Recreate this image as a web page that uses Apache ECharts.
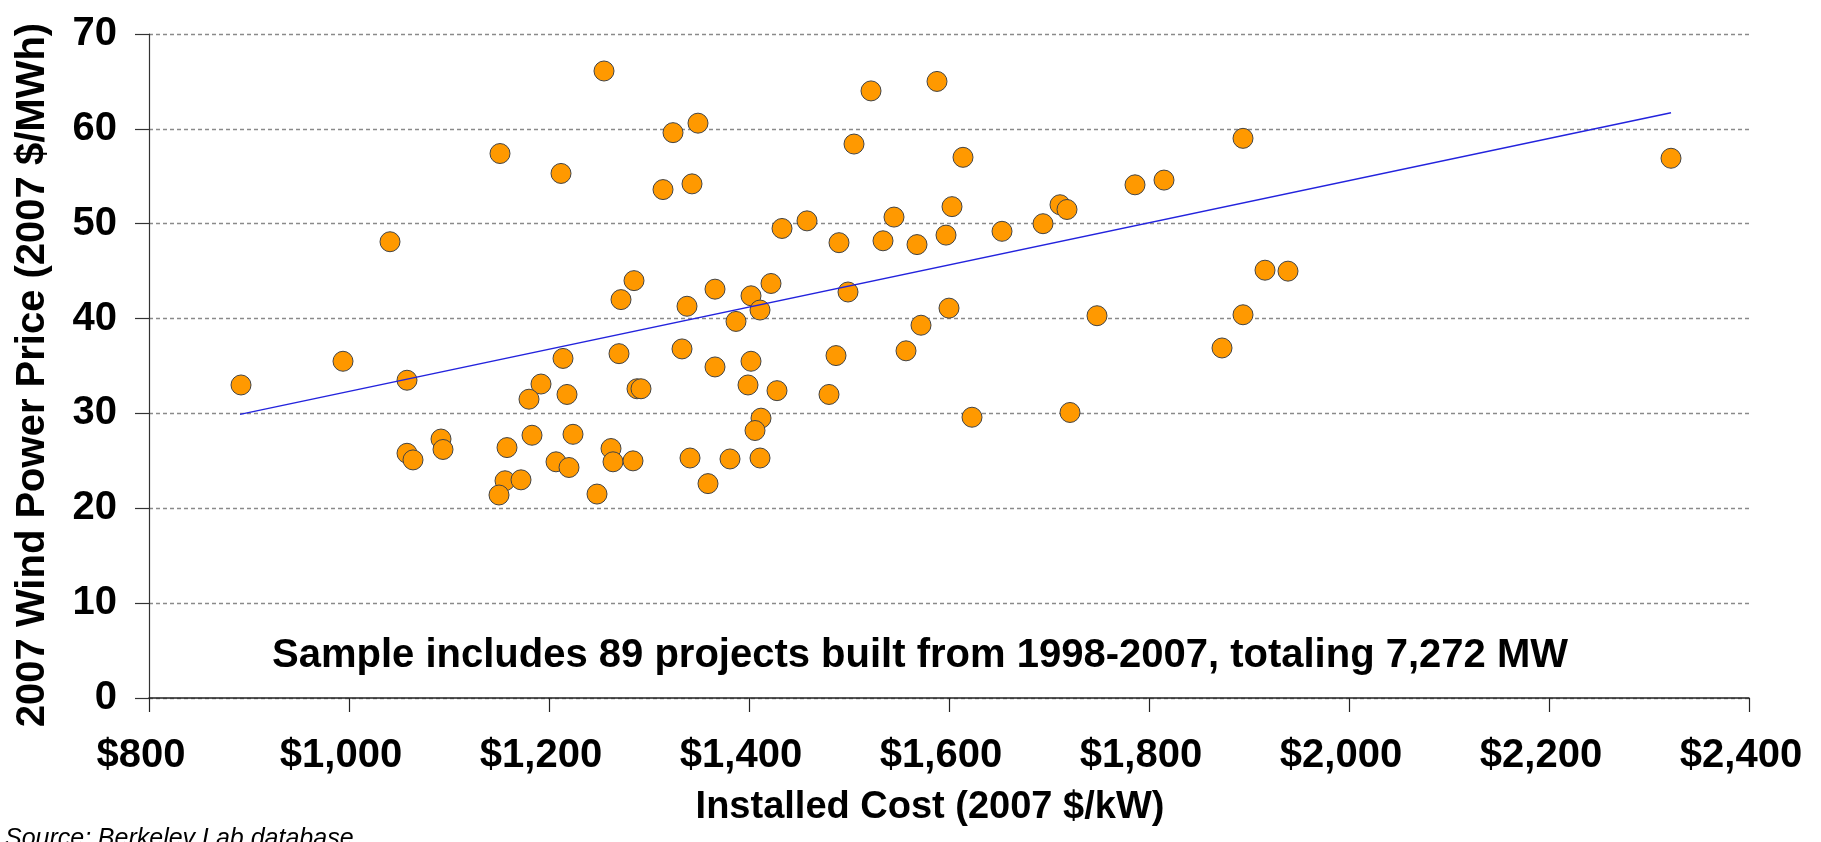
<!DOCTYPE html>
<html>
<head>
<meta charset="utf-8">
<title>Wind power price vs installed cost</title>
<script src="https://cdn.jsdelivr.net/npm/echarts/dist/echarts.min.js"></script>
<style>
  html, body { margin: 0; padding: 0; background: #fff; }
  #chart { width: 1821px; height: 842px; }
</style>
</head>
<body>
<div id="chart"></div>
<script>
// installed cost (2007 $/kW) of each project
var installedCost = [
  892, 994, 1041, 1058, 1151, 1192, 1180, 1183, 1158, 1058, 1064, 1092, 1094, 1156, 1172, 1150,
  1255, 1212, 1324, 1349, 1314, 1343, 1505, 1433, 1458, 1490, 1285, 1272, 1366, 1338, 1402, 1422,
  1411, 1387, 1499, 1214, 1270, 1333, 1366, 1402, 1487, 1218, 1288, 1292, 1399, 1428, 1480, 1412,
  1406, 1207, 1224, 1220, 1262, 1264, 1284, 1248, 1341, 1381, 1411, 1359,
  1522, 1588, 1614, 1786, 1815, 1545, 1603, 1711, 1718, 1534, 1568, 1597, 1653, 1694, 1600, 1572,
  1557, 1748, 1623, 1721, 1894, 2322, 1916, 1939, 1894, 1873
]
// 2007 wind power price ($/MWh), same order as installedCost
var windPrice = [
  33.0, 35.5, 48.1, 33.5, 57.4, 33.1, 31.5, 27.7, 26.4, 25.8, 25.1, 27.3, 26.2, 22.9, 23.0, 21.4,
  66.1, 55.3, 59.6, 60.6, 53.6, 54.2, 58.4, 49.5, 50.3, 48.0, 44.0, 42.0, 43.1, 41.3, 42.4, 43.7,
  40.9, 39.7, 42.8, 35.8, 36.3, 36.8, 34.9, 35.5, 36.1, 32.0, 32.6, 32.6, 33.0, 32.4, 32.0, 29.5,
  28.2, 24.9, 27.8, 24.3, 26.3, 24.9, 25.0, 21.5, 25.3, 25.2, 25.3, 22.6,
  64.0, 65.0, 57.0, 54.1, 54.6, 50.7, 51.8, 52.0, 51.5, 48.2, 47.8, 48.8, 49.2, 50.0, 41.1, 39.3,
  36.6, 40.3, 29.6, 30.1, 59.0, 56.9, 45.1, 45.0, 40.4, 36.9
]
// linear trend line end points
var trendCost = [891, 2322]
var trendPrice = [29.9, 61.7]

var FONT = '"Liberation Sans", Arial, Helvetica, sans-serif'

var points = installedCost.map(function (c, i) { return [c, windPrice[i]] })
var trend = trendCost.map(function (c, i) { return [c, trendPrice[i]] })

var myChart = echarts.init(document.getElementById('chart'))
var option = {
  animation: false,
  backgroundColor: '#fff',
  grid: { left: 149, right: 72, top: 34, bottom: 144 },
  xAxis: {
    type: 'value',
    min: 800,
    max: 2400,
    interval: 200,
    name: 'Installed Cost (2007 $/kW)',
    nameLocation: 'middle',
    nameGap: 91,
    nameTextStyle: { color: '#000', fontFamily: FONT, fontWeight: 'bold', fontSize: 38, padding: [0, 38, 0, 0] },
    axisLine: { lineStyle: { color: '#222', width: 1.5 } },
    axisTick: { show: true, inside: false, length: 14, lineStyle: { color: '#222', width: 1.2 } },
    axisLabel: {
      color: '#000', fontFamily: FONT, fontWeight: 'bold', fontSize: 40, margin: 38,
      padding: [0, 16, 0, 0],
      formatter: function (v) { return '$' + v.toLocaleString('en-US') }
    },
    splitLine: { show: false }
  },
  yAxis: {
    type: 'value',
    min: 0,
    max: 70,
    interval: 10,
    axisLine: { show: true, lineStyle: { color: '#333', width: 1.2 } },
    axisTick: { show: true, inside: false, length: 14, lineStyle: { color: '#333', width: 1.2 } },
    axisLabel: { color: '#000', fontFamily: FONT, fontWeight: 'bold', fontSize: 40, margin: 32 },
    splitLine: { show: true, lineStyle: { color: '#8a8a8a', width: 1.3, type: [4, 3] } }
  },
  graphic: [
    {
      // y axis title, placed by hand (it sits a bit below the plot middle)
      type: 'text',
      x: 33,
      y: 375,
      rotation: Math.PI / 2,
      style: {
        text: '2007 Wind Power Price (2007 $/MWh)',
        fill: '#000',
        font: 'bold 40px ' + FONT,
        align: 'center',
        verticalAlign: 'middle'
      }
    },
    {
      type: 'text',
      x: 920,
      y: 656,
      style: {
        text: 'Sample includes 89 projects built from 1998-2007, totaling 7,272 MW',
        fill: '#000',
        font: 'bold 40px ' + FONT,
        align: 'center',
        verticalAlign: 'middle'
      }
    },
    {
      type: 'text',
      x: 5,
      y: 827,
      style: {
        text: '{a|Source:}  {b|Berkeley Lab database}',
        verticalAlign: 'top',
        rich: {
          a: { fontFamily: FONT, fontSize: 25, fontStyle: 'italic', fill: '#000' },
          b: { fontFamily: FONT, fontSize: 25, fontStyle: 'italic', fill: '#000' }
        }
      }
    }
  ],
  series: [
    {
      type: 'scatter',
      data: points,
      symbol: 'circle',
      symbolSize: 20,
      itemStyle: { color: '#FF9900', borderColor: '#444', borderWidth: 1, opacity: 1 },
      z: 2
    },
    {
      type: 'line',
      data: trend,
      symbol: 'none',
      lineStyle: { color: '#2323dd', width: 1.5 },
      z: 3
    }
  ]
}
myChart.setOption(option)
</script>
</body>
</html>
